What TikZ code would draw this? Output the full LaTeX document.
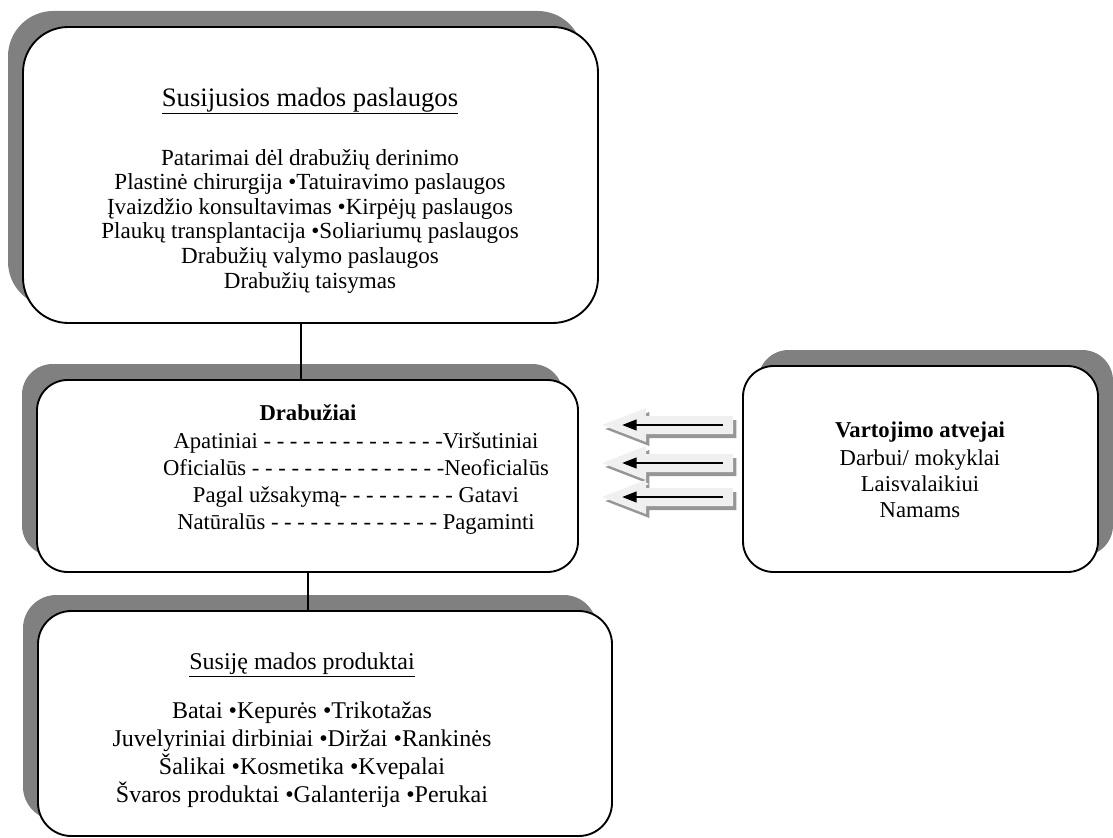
\documentclass[tikz,border=0pt]{standalone}
\usepackage{fontspec}
\setmainfont{Liberation Serif}
\usetikzlibrary{fit,shadows,arrows.meta}
\definecolor{shade}{HTML}{808080}
\definecolor{arrowfill}{HTML}{F0F0F0}
\definecolor{arrowshade}{HTML}{969696}
\begin{document}
\begin{tikzpicture}[x=0.75pt,y=-0.75pt,
  box/.style={draw=black, line width=1.4pt, fill=white, inner sep=0pt, rounded corners=#1},
  shadowleft/.style={general shadow={fill=shade, shadow xshift=-11.25pt, shadow yshift=12pt}},
  shadowright/.style={general shadow={fill=shade, shadow xshift=11.25pt, shadow yshift=12pt}},
  txt/.style={font=\fontsize{17}{18.45}\selectfont, align=center, inner sep=0pt},
  link/.style={draw=black, line width=1.4pt},
  blockarrow/.style={fill=arrowfill, general shadow={fill=arrowshade, shadow xshift=2.5pt, shadow yshift=-3pt}},
  innerarrow/.style={draw=black, line width=1.8pt, -{Triangle[length=11pt,width=8pt]}}
]
\useasboundingbox (0,0) rectangle (1113,838);

% boxes
\node[box=34pt, shadowleft, fit={(23,27) (598,323)}] (b1) {};
\node[box=23pt, shadowleft, fit={(37,380) (578,572)}] (b2) {};
\node[box=25pt, shadowleft, fit={(38,611) (612,836)}] (b3) {};
\node[box=23pt, shadowright, fit={(743,366) (1098,572)}] (b4) {};

% connectors
\coordinate (x1) at (301,0);
\coordinate (x2) at (308,0);
\draw[link] (b1.south -| x1) -- (b2.north -| x1);
\draw[link] (b2.south -| x2) -- (b3.north -| x2);

% texts box 1
\node[txt, font=\fontsize{20}{22}\selectfont] (t1) at (310,101) {\underline{Susijusios mados paslaugos}};
\node[txt, font=\fontsize{17.3}{18.45}\selectfont] (t1b) at (310,221) {Patarimai dėl drabužių derinimo\\
Plastinė chirurgija •Tatuiravimo paslaugos\\
Įvaizdžio konsultavimas •Kirpėjų paslaugos\\
Plaukų transplantacija •Soliariumų paslaugos\\
Drabužių valymo paslaugos\\
Drabužių taisymas};

% texts box 2
\node[txt] (t2) at (308,413) {\textbf{Drabužiai}};
\node[txt, font=\fontsize{17}{20.25}\selectfont] (t2b) at (356,484) {Apatiniai - - - - - - - - - - - - - -Viršutiniai\\
Oficialūs - - - - - - - - - - - - - - -Neoficialūs\\
Pagal užsakymą- - - - - - - - - Gatavi\\
Natūralūs - - - - - - - - - - - - - Pagaminti};

% texts box 3
\node[txt, font=\fontsize{18}{20}\selectfont] (t3) at (302,665) {\underline{Susiję mados produktai}};
\node[txt, font=\fontsize{18}{21}\selectfont] (t3b) at (302,754.5) {Batai •Kepurės •Trikotažas\\
Juvelyriniai dirbiniai •Diržai •Rankinės\\
Šalikai •Kosmetika •Kvepalai\\
Švaros produktai •Galanterija •Perukai};

% texts box 4
\node[txt] (t4) at (920,432) {\textbf{Vartojimo atvejai}};
\node[txt, font=\fontsize{17}{19.5}\selectfont] (t4b) at (920,484) {Darbui/ mokyklai\\
Laisvalaikiui\\
Namams};

% block arrows
\foreach \yy/\nm in {425/a1,463/a2,497/a3}{
  \fill[blockarrow] (602,\yy) -- (646,\yy-17) -- (646,\yy-9) -- (733,\yy-9) -- (733,\yy+9) -- (646,\yy+9) -- (646,\yy+17) -- cycle;
  \coordinate (\nm s) at (723,\yy);
  \coordinate (\nm e) at (622,\yy);
  \draw[innerarrow] (\nm s) -- (\nm e);
}
\end{tikzpicture}
\end{document}
